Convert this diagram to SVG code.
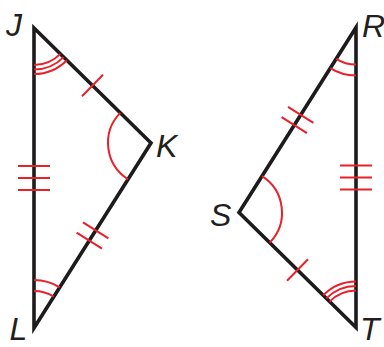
<svg xmlns="http://www.w3.org/2000/svg" xmlns:xlink="http://www.w3.org/1999/xlink" width="384" height="347" viewBox="0 0 384 347">
<style>
.side{fill:none;stroke:#1d1b1c;stroke-width:3.6;stroke-linejoin:miter;stroke-miterlimit:10}
.mark{fill:none;stroke:#e8202a;stroke-width:2}
.lbl{font-family:"Liberation Sans",Arial,sans-serif;font-style:italic;font-size:32px;fill:#231f20}
</style>
<rect width="384" height="347" fill="#ffffff"/>
<defs>
<g id="shape">
<polygon class="side" points="34,28 151,143 34,328"/>
<g class="mark">
<!-- angle J triple -->
<path d="M34,65 A37,37 0 0 0 60.4,53.9"/>
<path d="M34,69.5 A41.5,41.5 0 0 0 63.6,57.1"/>
<path d="M34,74 A46,46 0 0 0 66.8,60.2"/>
<!-- angle K single -->
<path d="M120.3,112.9 A43,43 0 0 0 128,179.3"/>
<!-- angle L double -->
<path d="M34,291 A37,37 0 0 1 53.8,296.7"/>
<path d="M34,280 A48,48 0 0 1 59.7,287.4"/>
<!-- tick JK single -->
<line x1="82" y1="96.2" x2="103" y2="74.8"/>
<!-- ticks KL double -->
<line x1="83" y1="222.4" x2="108.4" y2="238.4"/>
<line x1="76.6" y1="232.6" x2="102" y2="248.6"/>
<!-- ticks JL triple -->
<line x1="18" y1="166" x2="50" y2="166"/>
<line x1="18" y1="178" x2="50" y2="178"/>
<line x1="18" y1="190" x2="50" y2="190"/>
</g>
</g>
</defs>
<g id="triangle-JKL">
<use href="#shape" xlink:href="#shape"/>
</g>
<g id="triangle-RST">
<use href="#shape" xlink:href="#shape" transform="rotate(180 195 177.75)"/>
</g>
<g id="labels">
<text class="lbl" x="6" y="36">J</text>
<text class="lbl" x="156" y="157">K</text>
<text class="lbl" x="9.5" y="340">L</text>
<text class="lbl" x="362" y="37">R</text>
<text class="lbl" x="210" y="226">S</text>
<text class="lbl" x="360" y="340">T</text>
</g>
</svg>
